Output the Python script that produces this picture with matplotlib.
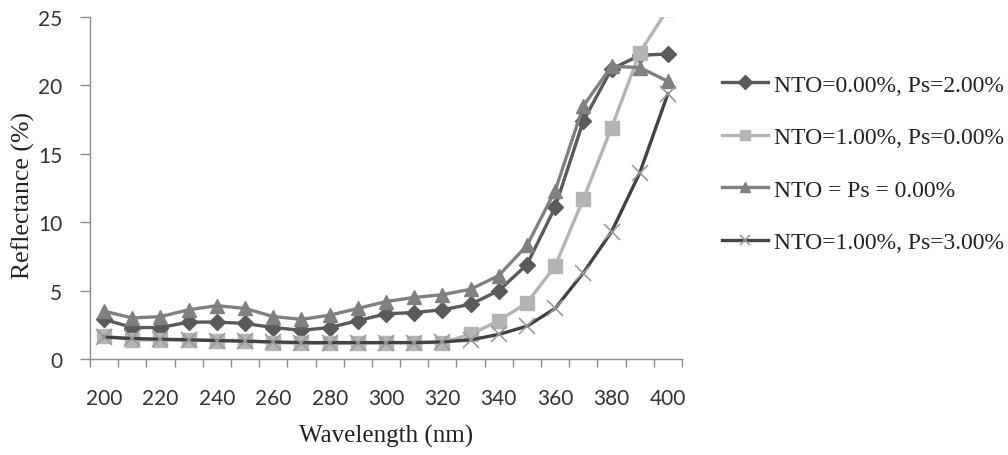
import numpy as np
import matplotlib
matplotlib.use("Agg")
import matplotlib.pyplot as plt

# wavelength categories (nm)
wavelength = [200, 210, 220, 230, 240, 250, 260, 270, 280, 290, 300,
              310, 320, 330, 340, 350, 360, 370, 380, 390, 400]

# reflectance (%)
nto0_ps2 = [2.9, 2.3, 2.3, 2.7, 2.7, 2.6, 2.3, 2.1, 2.3, 2.8, 3.3,
            3.4, 3.6, 4.0, 5.0, 6.9, 11.1, 17.4, 21.2, 22.2, 22.3]
nto1_ps0 = [1.7, 1.4, 1.4, 1.4, 1.35, 1.35, 1.2, 1.15, 1.15, 1.15, 1.2,
            1.2, 1.2, 1.8, 2.8, 4.1, 6.8, 11.7, 16.9, 22.4, 25.6]
nto_ps0 = [3.5, 3.0, 3.1, 3.6, 3.9, 3.7, 3.1, 2.9, 3.2, 3.7, 4.2,
           4.5, 4.7, 5.1, 6.1, 8.3, 12.3, 18.5, 21.4, 21.3, 20.3]
nto1_ps3 = [1.6, 1.5, 1.45, 1.4, 1.35, 1.3, 1.25, 1.2, 1.2, 1.2, 1.2,
            1.2, 1.25, 1.4, 1.8, 2.4, 3.7, 6.3, 9.3, 13.6, 19.4]

labels = ["NTO=0.00%, Ps=2.00%", "NTO=1.00%, Ps=0.00%",
          "NTO = Ps = 0.00%", "NTO=1.00%, Ps=3.00%"]

serif = "Liberation Serif"
sans = "Lato"

fig = plt.figure(figsize=(10.08, 4.56), dpi=100)
ax = fig.add_axes([0.0893, 0.2105, 0.5873, 0.75])

x = np.arange(len(wavelength))
lw = 2.4
ax.plot(x, nto0_ps2, color="#5a5a5a", lw=lw, marker="D", ms=8,
        label=labels[0])
ax.plot(x, nto1_ps0, color="#b4b4b4", lw=lw, marker="s", ms=10.5,
        label=labels[1])
ax.plot(x, nto_ps0, color="#808080", lw=lw, marker="^", ms=10.5,
        label=labels[2])
ax.plot(x, nto1_ps3, color="#424242", lw=lw, marker="x", ms=11.5, mew=1.2,
        mec="#9a9a9a", label=labels[3])

ax.set_xlim(-0.5, len(wavelength) - 0.5)
ax.set_ylim(0, 25)
ax.set_yticks([0, 5, 10, 15, 20, 25])

# category axis: tick marks between categories, labels every other category
ax.set_xticks(np.arange(-0.5, len(wavelength), 1.0))
ax.set_xticklabels([])
ax.set_xticks(x[::2], minor=True)
ax.set_xticklabels([str(w) for w in wavelength[::2]], minor=True)
ax.tick_params(axis="x", which="major", direction="out", length=6,
               color="#8c8c8c", width=1)
ax.tick_params(axis="x", which="minor", length=0, pad=21,
               labelsize=15, labelcolor="#333333")
ax.tick_params(axis="y", direction="out", length=7, color="#8c8c8c",
               width=1, pad=13, labelsize=15, labelcolor="#333333")
for lab in ax.get_xticklabels(minor=True) + ax.get_yticklabels():
    lab.set_fontfamily(sans)

for s in ["top", "right"]:
    ax.spines[s].set_visible(False)
for s in ["left", "bottom"]:
    ax.spines[s].set_color("#8c8c8c")
    ax.spines[s].set_linewidth(1)

ax.set_xlabel("Wavelength (nm)", fontfamily=serif, fontsize=18,
              color="#222222", labelpad=11)
ax.set_ylabel("Reflectance (%)", fontfamily=serif, fontsize=18.5,
              color="#222222")
ax.yaxis.set_label_coords(-0.093, 0.48)

leg = ax.legend(loc="upper left", bbox_to_anchor=(1.031, 0.895),
                frameon=False, handlelength=1.95, handletextpad=0.25,
                labelspacing=1.31, prop={"family": serif, "size": 17})
for t in leg.get_texts():
    t.set_color("#222222")
for h in leg.legend_handles:
    h.set_markersize(7)

fig.savefig("out.png", dpi=100)
